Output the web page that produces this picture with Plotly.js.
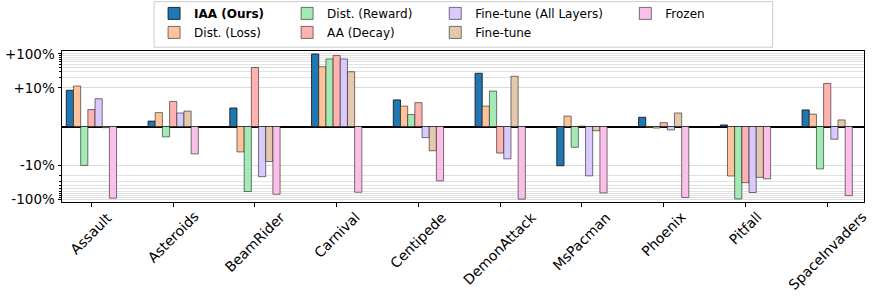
<!DOCTYPE html>
<html>
<head>
<meta charset="utf-8">
<script src="https://cdn.plot.ly/plotly-3.0.1.min.js"></script>
<style>html,body{margin:0;padding:0;background:#fff;}#chart{width:891px;height:297px;}</style>
</head>
<body>
<div id="chart"></div>
<script>
// ---- data (percent change) ----
const games = ["Assault","Asteroids","BeamRider","Carnival","Centipede","DemonAttack","MsPacman","Phoenix","Pitfall","SpaceInvaders"];
const seriesNames = ["<b>IAA (Ours)</b>","Dist. (Loss)","Dist. (Reward)","AA (Decay)","Fine-tune (All Layers)","Fine-tune","Frozen"];
const iaa        = [9.4, 1.4, 4.8, 99, 6.9, 27, -10.5, 2.4, 0.4, 4.3];
const distLoss   = [11.4, 3.6, -6.6, 42, 5.3, 5.3, 2.7, -0.2, -21, 3.2];
const distReward = [-10.3, -2.7, -60, 71, 3.1, 9.2, -5.4, -0.4, -99, -13];
const aaDecay    = [4.4, 6.5, 40, 90, 6.2, -6.9, 0.1, 1.0, -33, 13.6];
const ftAll      = [7.2, 3.5, -22, 71, -2.9, -8.4, -20.8, -0.9, -64, -3.3];
const fineTune   = [-0.3, 4.0, -9.1, 30, -6.3, 22, -1.1, 3.5, -23, 1.7];
const frozen     = [-94, -7.1, -72, -63, -29, -100, -66, -90, -25.5, -79];
const yTickVals  = [100, 10, -10, -100];
const yTickText  = ["+100%", "+10%", "-10%", "-100%"];
const colors = ["#1f77b4","#ffc39b","#a4eab4","#ffb2af","#d9c9ff","#e5c9af","#fbc0e9"];
const edgeColors = ["rgba(20,20,20,0.85)","rgba(30,30,30,0.6)","rgba(30,30,30,0.6)","rgba(30,30,30,0.6)","rgba(30,30,30,0.6)","rgba(30,30,30,0.6)","rgba(30,30,30,0.6)"];
const legendIds = ["legend","legend","legend2","legend2","legend3","legend3","legend4"];

// symmetric-log transform (linear within +-10%)
const A = 1.13;
function sym(v){ const a = Math.abs(v); return a <= 10 ? v/10*A : Math.sign(v)*(A + Math.log10(a/10)); }

const allSeries = [iaa, distLoss, distReward, aaDecay, ftAll, fineTune, frozen];
const xs = games.map((g,i)=>i);
const traces = allSeries.map((vals,k)=>({
  type: 'bar', name: seriesNames[k], x: xs, y: vals.map(sym),
  customdata: vals,
  marker: {color: colors[k], line: {color: edgeColors[k], width: 1}},
  legend: legendIds[k], hoverinfo: 'skip'
}));

const minorVals = [];
for (let k=2;k<=9;k++){ minorVals.push(sym(10*k)); minorVals.push(sym(-10*k)); }

const font = {family: 'DejaVu Sans', size: 12, color: '#000'};
const yTickFont = {family: 'DejaVu Sans', size: 13.5, color: '#000'};
const xLabelFont = {family: 'DejaVu Sans', size: 14, color: '#000'};
const legBase = {orientation: 'v', xanchor: 'left', yanchor: 'top', y: 1.345,
  bgcolor: 'rgba(0,0,0,0)', borderwidth: 0, font: font, tracegroupgap: 0};

const annotations = games.map((g,i)=>({
  x: i, xref: 'x', y: 0, yref: 'paper', text: g, showarrow: false,
  textangle: -45, xanchor: 'center', yanchor: 'top', yshift: -4, font: xLabelFont
}));

const layout = {
  width: 891, height: 297,
  margin: {l: 62, r: 27, t: 50.5, b: 95, autoexpand: false},
  paper_bgcolor: '#fff', plot_bgcolor: '#fff',
  font: font,
  barmode: 'group', bargap: 0.385, bargroupgap: 0,
  showlegend: true,
  legend:  Object.assign({}, legBase, {x: 0.1148}),
  legend2: Object.assign({}, legBase, {x: 0.2807}),
  legend3: Object.assign({}, legBase, {x: 0.4654}),
  legend4: Object.assign({}, legBase, {x: 0.7024}),
  xaxis: {range: [-0.36, 9.45], tickvals: xs, showticklabels: false,
    ticks: 'outside', ticklen: 3.5, tickcolor: '#000', showgrid: false,
    showline: true, linecolor: '#000', linewidth: 1, mirror: true, zeroline: false, fixedrange: true},
  yaxis: {range: [-2.215, 2.215], tickmode: 'array', tickvals: yTickVals.map(sym), ticktext: yTickText,
    ticks: 'outside', ticklen: 3.5, tickcolor: '#000', tickfont: yTickFont,
    showgrid: true, gridcolor: '#dcdcdc', gridwidth: 1,
    minor: {tickmode: 'array', tickvals: minorVals, ticks: 'outside', ticklen: 2, tickcolor: '#000',
      showgrid: true, gridcolor: '#e2e2e2', gridwidth: 1},
    zeroline: true, zerolinecolor: '#000', zerolinewidth: 2,
    showline: true, linecolor: '#000', linewidth: 1, mirror: true, fixedrange: true},
  annotations: annotations,
  shapes: [{type: 'rect', xref: 'paper', yref: 'paper', x0: 0.1148, x1: 0.886, y0: 1.025, y1: 1.327,
    line: {color: '#cccccc', width: 1}, fillcolor: 'rgba(0,0,0,0)', layer: 'below'}]
};

Plotly.newPlot('chart', traces, layout, {displayModeBar: false, staticPlot: true});
</script>
</body>
</html>
